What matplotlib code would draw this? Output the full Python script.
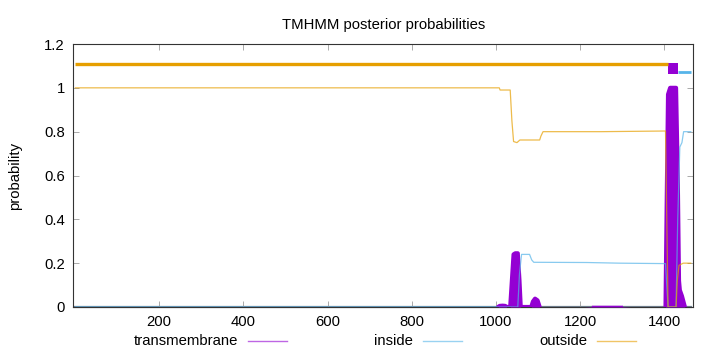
import matplotlib
matplotlib.use('Agg')
import matplotlib.pyplot as plt
import numpy as np
from matplotlib.lines import Line2D

plt.rcParams['font.family'] = ['Liberation Sans', 'DejaVu Sans']
plt.rcParams['font.size'] = 10.7

# posterior probabilities (position, value)
tm_pos = [1, 1005, 1009, 1016, 1022, 1026, 1034, 1038, 1042, 1046, 1052, 1056, 1059, 1084,
          1088, 1093, 1099, 1104, 1210, 1230, 1250, 1300, 1320, 1403, 1406, 1409, 1414,
          1428, 1432, 1435, 1437, 1442, 1449, 1463]
tm_val = [0, 0, 0.005, 0.006, 0.005, 0, 0, 0.12, 0.24, 0.245, 0.245, 0.12, 0, 0,
          0.025, 0.038, 0.03, 0, 0, 0.002, 0.002, 0.002, 0, 0, 0.5, 0.97, 1.0,
          1.0, 0.6, 0.12, 0.077, 0.05, 0, 0]

inside_pos = [1, 1052, 1056, 1061, 1080, 1085, 1090, 1216, 1294, 1403, 1409, 1428, 1432,
              1437, 1442, 1446, 1463]
inside_val = [0, 0, 0.15, 0.24, 0.24, 0.215, 0.204, 0.203, 0.2, 0.198, 0, 0, 0.4,
              0.73, 0.75, 0.80, 0.80]

outside_pos = [1, 1008, 1010, 1034, 1038, 1042, 1050, 1057, 1104, 1107, 1112, 1250, 1403,
               1406, 1409, 1428, 1431, 1435, 1445, 1463]
outside_val = [1.0, 1.0, 0.99, 0.99, 0.85, 0.755, 0.75, 0.762, 0.762, 0.78, 0.80, 0.80, 0.803,
               0.4, 0, 0, 0.12, 0.19, 0.20, 0.20]

# predicted topology segments (label, start, end)
topology = [('outside', 1, 1409), ('transmembrane', 1409, 1432), ('inside', 1432, 1463)]

colors = {'transmembrane': '#9400d3', 'inside': '#56b4e9', 'outside': '#e69f00'}

fig = plt.figure(figsize=(7.2, 3.52), dpi=100)
ax = fig.add_axes([73.3 / 720, 45 / 352, 620 / 720, 263 / 352])

# baseline where nothing is predicted
ax.plot([tm_pos[0], tm_pos[-1]], [0, 0], color='#708090', lw=1.6, zorder=1, clip_on=False)

# transmembrane drawn thick, only where it clearly leaves zero
tm = np.array(tm_val, dtype=float)
keep = np.zeros(len(tm), dtype=bool)
for i in range(len(tm)):
    lo, hi = max(i - 1, 0), min(i + 2, len(tm))
    keep[i] = tm[lo:hi].max() > 0.004
tm_line = np.where(keep, tm, np.nan)
ax.fill_between(tm_pos, tm_val, color=colors['transmembrane'], lw=0, zorder=3)
ax.plot(tm_pos, tm_line, color=colors['transmembrane'], lw=3, solid_joinstyle='round',
        solid_capstyle='round', zorder=3)
ax.plot(tm_pos, np.where(tm > 0, tm, np.nan), color=colors['transmembrane'], lw=1.2, zorder=3)
ax.plot(inside_pos, inside_val, color=colors['inside'], lw=0.9, alpha=0.7, zorder=4)
ax.plot(outside_pos, outside_val, color=colors['outside'], lw=0.9, alpha=0.7, zorder=4)

# topology bar on top
for label, start, end in topology:
    if label == 'outside':
        ax.plot([start, end], [1.111, 1.111], color=colors[label], lw=2.4, solid_capstyle='butt')
    elif label == 'inside':
        ax.plot([start, end], [1.07, 1.07], color=colors[label], lw=2.0, solid_capstyle='butt')
    else:
        ax.fill_between([start, end], 1.065, 1.114, color=colors[label], lw=0)

ax.set_xlim(-4, 1469)
ax.set_ylim(0, 1.2)
ax.set_xticks([200, 400, 600, 800, 1000, 1200, 1400])
ax.set_yticks([0, 0.2, 0.4, 0.6, 0.8, 1.0, 1.2])
ax.set_yticklabels(['0', '0.2', '0.4', '0.6', '0.8', '1', '1.2'])
ax.tick_params(direction='in', length=4, width=0.5, color='#888888', top=True, right=True,
               labelsize=10.7, pad=6)
for s in ax.spines.values():
    s.set_color('#333333')
    s.set_linewidth(0.8)

ax.set_ylabel('probability', labelpad=16)
ax.set_title('TMHMM posterior probabilities', fontsize=10.7, pad=11)

# gnuplot-style key below the axes
for i, label in enumerate(['transmembrane', 'inside', 'outside']):
    x0 = 238 + 174.5 * i
    fig.text(x0 / 720, 1 - 341 / 352, label, ha='right', va='center', fontsize=10.7)
    fig.add_artist(Line2D([(x0 + 10) / 720, (x0 + 49) / 720], [1 - 341 / 352] * 2,
                          color=colors[label], lw=1.0, alpha=0.6))

fig.savefig('out.png', dpi=100)
